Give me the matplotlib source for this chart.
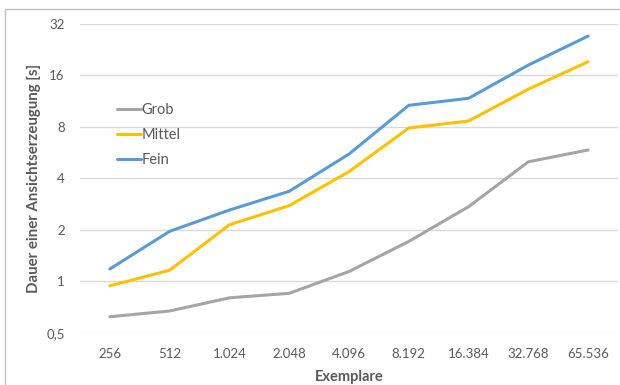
import numpy as np
import matplotlib
matplotlib.use('Agg')
import matplotlib.pyplot as plt
from matplotlib.patches import Rectangle

# Laufzeiten je Aufloesung (Sekunden)
exemplare = ['256', '512', '1.024', '2.048', '4.096', '8.192', '16.384', '32.768', '65.536']
grob = [0.62, 0.67, 0.80, 0.85, 1.14, 1.71, 2.73, 5.0, 5.86]
mittel = [0.94, 1.16, 2.14, 2.77, 4.38, 7.88, 8.66, 13.3, 19.25]
fein = [1.18, 1.96, 2.61, 3.36, 5.55, 10.7, 11.76, 18.4, 27.2]

yticks = [0.5, 1, 2, 4, 8, 16, 32]
ylabels = ['0,5', '1', '2', '4', '8', '16', '32']

plt.rcParams['font.family'] = ['Lato', 'DejaVu Sans']
textcol = '#595959'

fig = plt.figure(figsize=(6.2, 3.85), dpi=100)
ax = fig.add_axes([80/620, 1 - 332.7/385, 538/620, 308.7/385])

# Rahmen um das ganze Diagramm
fig.patches.append(Rectangle((5/620, -0.05), 1.1, 1.05 - 9/385,
                             transform=fig.transFigure, fill=False,
                             edgecolor='#BFBFBF', linewidth=1.0))

x = np.arange(len(exemplare))
ax.plot(x, grob, color='#A5A5A5', lw=2.2, label='Grob', solid_capstyle='round')
ax.plot(x, mittel, color='#FFC000', lw=2.2, label='Mittel', solid_capstyle='round')
ax.plot(x, fein, color='#5B9BD5', lw=2.2, label='Fein', solid_capstyle='round')

ax.set_yscale('log', base=2)
ax.set_ylim(0.5, 32)
ax.set_xlim(-0.5, len(exemplare) - 0.5)
ax.set_yticks(yticks)
ax.set_yticklabels(ylabels)
ax.minorticks_off()
ax.set_xticks(x)
ax.set_xticklabels(exemplare)
ax.tick_params(axis='both', length=0, colors=textcol, labelsize=9.5)
ax.tick_params(axis='y', pad=11)
ax.tick_params(axis='x', pad=11)

ax.grid(axis='y', color='#D9D9D9', lw=1.0)
ax.set_axisbelow(True)
for s in ax.spines.values():
    s.set_visible(False)

ax.set_xlabel('Exemplare', fontsize=10.5, fontweight='bold', color=textcol, labelpad=7)
ax.set_ylabel('Dauer einer Ansichtserzeugung [s]', fontsize=10.8, fontweight='bold',
              color=textcol)
ax.yaxis.set_label_coords(-0.072, 0.5)

leg = ax.legend(loc='upper left', bbox_to_anchor=(0.045, 0.785), frameon=False,
                handlelength=1.6, handletextpad=0.05, labelspacing=0.75,
                fontsize=10.5, labelcolor=textcol)

fig.savefig('out.png', dpi=100)
